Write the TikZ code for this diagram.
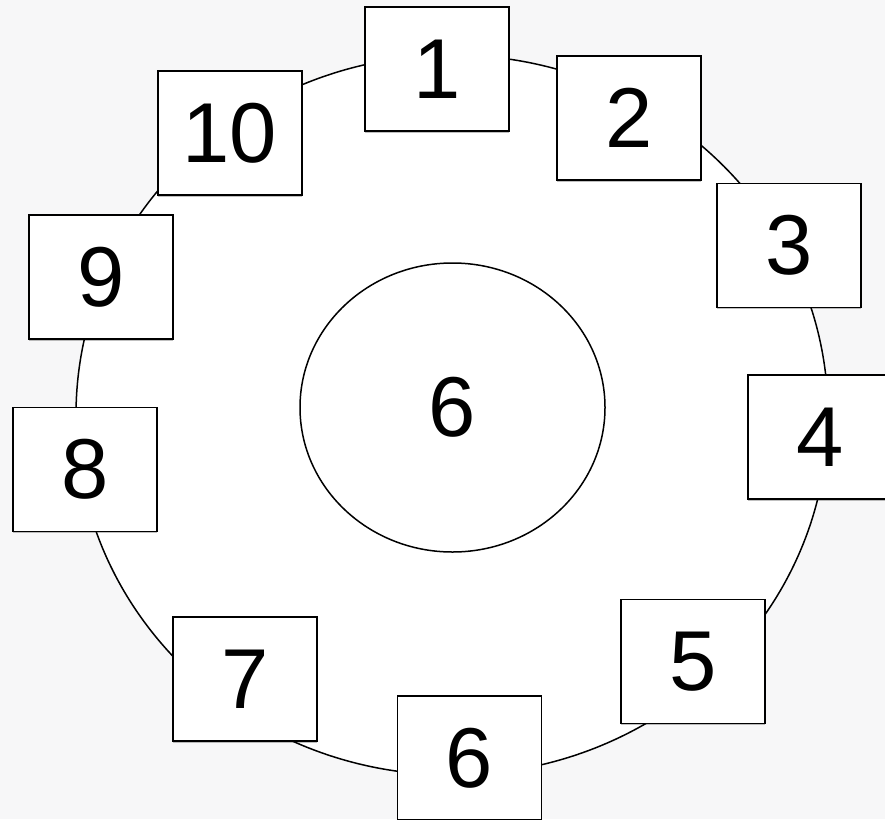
\documentclass[tikz,border=0pt]{standalone}
\usepackage{fontspec}
\setmainfont{Liberation Sans}
\usetikzlibrary{shapes.geometric,shadows}
\definecolor{pagebg}{RGB}{247,247,248}

\begin{document}
\begin{tikzpicture}[x=1pt,y=-1pt,
  numbox/.style={draw,line width=1.7pt,fill=white,minimum width=144pt,minimum height=124pt,
    inner sep=0pt,font=\fontsize{85}{85}\selectfont,
    drop shadow={shadow xshift=0pt,shadow yshift=-1.5pt,fill=black,opacity=0.25}},
  ring/.style={draw,line width=1.5pt,ellipse,fill=white,inner sep=0pt}]
  \clip (0,0) rectangle (885,819);
  \fill[pagebg] (0,0) rectangle (885,819);
  % outer ring and hub
  \node[ring,minimum width=752pt,minimum height=720pt] (outer) at (452,415) {};
  \node[ring,minimum width=305pt,minimum height=289pt,font=\fontsize{85}{85}\selectfont] (hub) at (452.5,407.5) {6};
  % numbered boxes round the ring
  \foreach \n/\x/\y in {1/437/69, 2/629/118, 3/789/245.5, 4/820/437, 5/693/661.5,
                        6/469.5/758, 7/245/679, 8/85/469.5, 9/101/277, 10/230/133}
    \node[numbox] (b\n) at (\x,\y) {\n};
\end{tikzpicture}
\end{document}
